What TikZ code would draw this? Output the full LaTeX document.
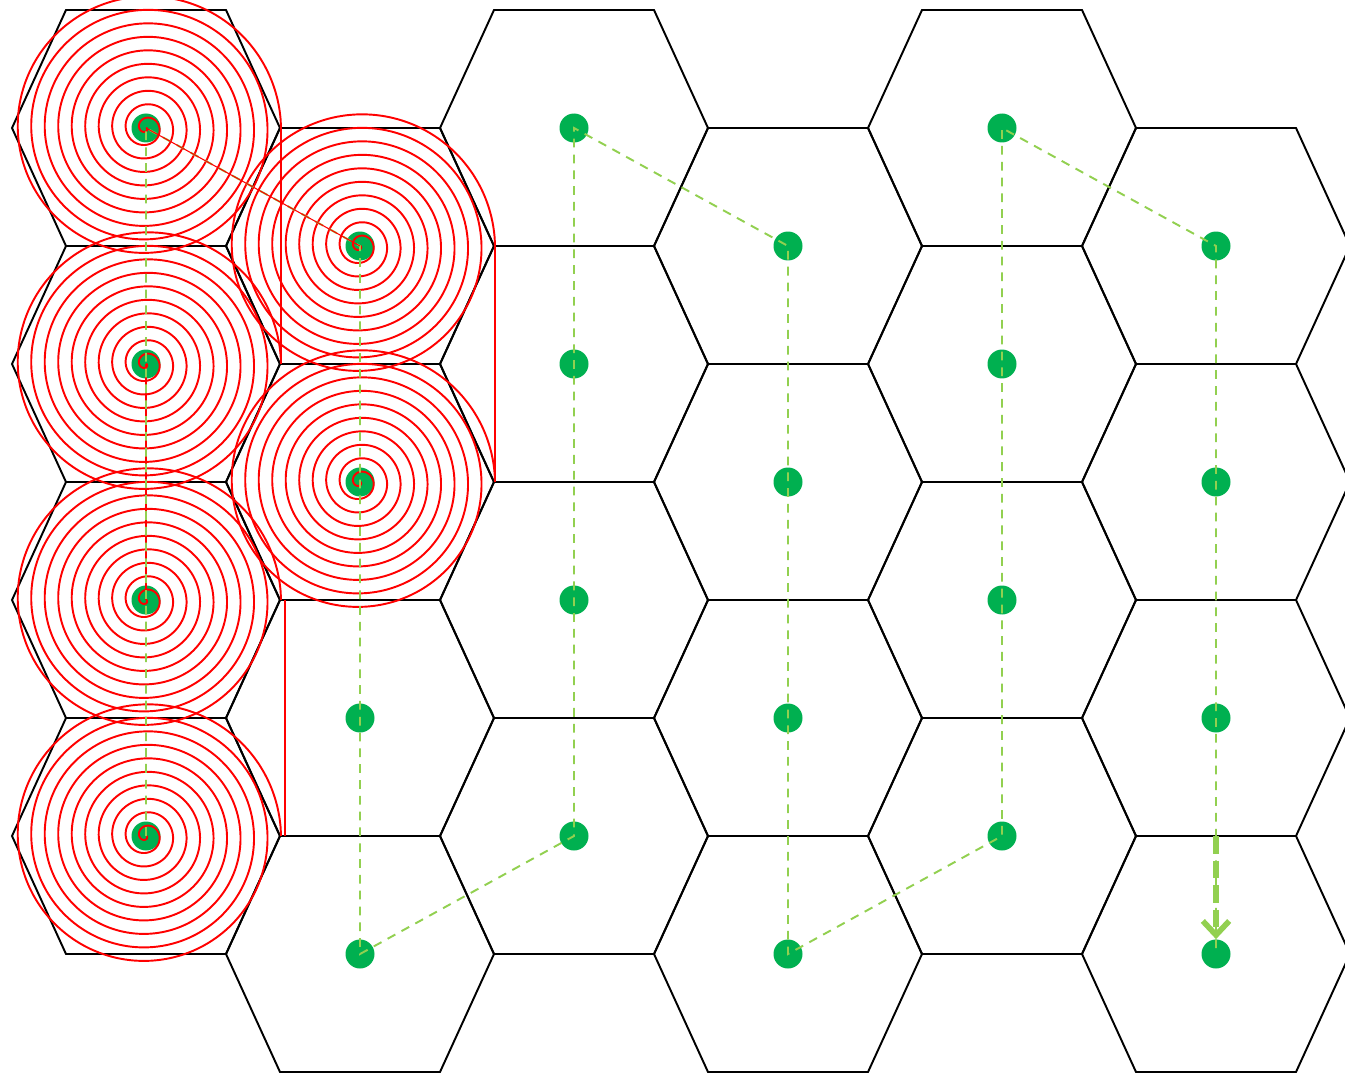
\documentclass[tikz,border=0pt]{standalone}
\usepackage{tikz}
\usetikzlibrary{arrows.meta, calc}
\definecolor{cellgreen}{HTML}{00B050}
\definecolor{routegreen}{HTML}{92D050}
\tikzset{
  hexline/.style={draw=black, line width=1.1pt, line join=miter},
  basestation/.style={circle, fill=cellgreen, minimum size=0.58cm, inner sep=0pt},
  route/.style={draw=routegreen, line width=1.1pt, dash pattern=on 5pt off 4pt},
  ripple/.style={draw=red, line width=1.1pt},
  trace/.style={draw=red, line width=0.6pt}
}
\begin{document}
\begin{tikzpicture}[x=0.02cm, y=-0.02cm]
\useasboundingbox (0,0) rectangle (1345,1074);
\foreach \i in {0,...,5}{
  \pgfmathsetmacro{\cx}{146+214*\i}
  \pgfmathsetmacro{\cy}{isodd(\i) ? 246 : 128}
  \foreach \k in {0,...,3}{
    \draw[hexline, shift={(\cx,\cy+236*\k)}] (-134,0) -- (-80,-118) -- (80,-118) -- (134,0) -- (80,118) -- (-80,118) -- cycle;
    \node[basestation] (c\i-\k) at (\cx,\cy+236*\k) {};
  }
}
\foreach \s in {c0-0,c0-1,c0-2,c0-3,c1-0,c1-1}
  \draw[ripple, shift={(\s.center)}] plot[domain=0:3600, samples=900, smooth] ({0.0375*\x*cos(\x)}, {0.0375*\x*sin(\x)});
\draw[trace] (c0-1.center) -- (c0-2.center);
\draw[route] (c0-3.center) -- (c0-0.center) -- (c1-0.center) -- (c1-3.center) -- (c2-3.center) -- (c2-0.center) -- (c3-0.center) -- (c3-3.center) -- (c4-3.center) -- (c4-0.center) -- (c5-0.center) -- (c5-3.center);
\coordinate (arrowtail) at ($(c5-3.center)+(0,-118)$);
\draw[route, line width=3.2pt, dash pattern=on 10pt off 4pt, -{Straight Barb[length=8pt,width=15pt]}] (arrowtail) -- (c5-3.north);
\draw[trace] (c0-0.center) -- (c1-0.center);
\draw[trace] ($(c0-0.center)+(135,0)$) -- ($(c0-1.center)+(135,0)$);
\draw[trace] ($(c1-0.center)+(135,0)$) -- ($(c1-1.center)+(135,0)$);
\draw[trace] ($(c0-2.center)+(139,0)$) -- ($(c0-3.center)+(139,0)$);
\end{tikzpicture}
\end{document}
